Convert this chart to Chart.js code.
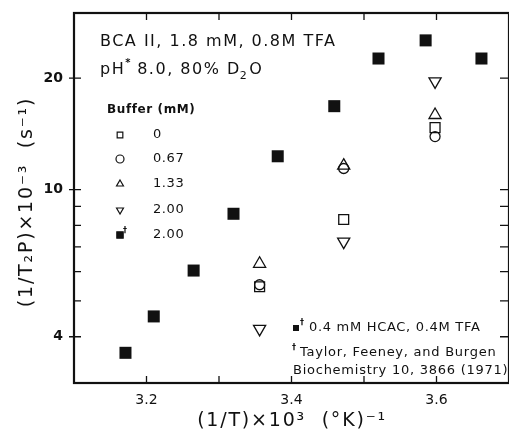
<!DOCTYPE html>
<html>
<head>
<meta charset="utf-8">
<script src="https://cdn.jsdelivr.net/npm/chart.js@4/dist/chart.umd.min.js"></script>
<style>
  html, body { margin: 0; padding: 0; background: #fff; }
  #wrap { width: 509px; height: 432px; }
</style>
</head>
<body>
<div id="wrap"><canvas id="c" width="509" height="432"></canvas></div>
<script>
// Taylor, Feeney and Burgen (1971), filled squares
const xTaylor = [3.171, 3.210, 3.265, 3.320, 3.381, 3.459, 3.520, 3.585, 3.662];
const yTaylor = [3.62, 4.54, 6.04, 8.60, 12.3, 16.8, 22.6, 25.3, 22.6];

// this work, three temperatures
const xBuffer = [3.356, 3.472, 3.598];
const yBuf0 = [5.46, 8.30, 14.7];
const yBuf067 = [5.53, 11.4, 13.9];
const yBuf133 = [6.30, 11.6, 15.9];
const yBuf200 = [4.20, 7.23, 19.6];

const legendLabels = ["0", "0.67", "1.33", "2.00", "2.00"];
const xMajor = [3.2, 3.3, 3.4, 3.5, 3.6];
const xLabelled = [3.2, 3.4, 3.6];
const yTicks = [3, 4, 5, 6, 7, 8, 9, 10, 20, 30];
const yLabelled = [4, 10, 20];

const FONT = "'DejaVu Sans', sans-serif";
const INK = "#111";

function pts(xs, ys) {
  return xs.map((x, i) => ({ x: x, y: ys[i] }));
}

function open(label, data, style, radius, rotation) {
  return {
    label, data,
    pointStyle: style,
    radius: radius,
    rotation: rotation || 0,
    borderColor: INK,
    borderWidth: 1.3,
    backgroundColor: "rgba(0,0,0,0)",
  };
}

const frame = {
  id: "frame",
  afterDraw(chart) {
    const { ctx, chartArea: a, scales: { x, y } } = chart;
    ctx.save();
    ctx.strokeStyle = INK;
    ctx.lineWidth = 2.2;
    ctx.strokeRect(a.left, a.top, a.right - a.left, a.bottom - a.top);

    ctx.lineWidth = 1.3;
    ctx.beginPath();
    xMajor.forEach(v => {
      const px = x.getPixelForValue(v);
      ctx.moveTo(px, a.bottom); ctx.lineTo(px, a.bottom - 7);
      ctx.moveTo(px, a.top); ctx.lineTo(px, a.top + 7);
    });
    yTicks.forEach(v => {
      if (v === 3 || v === 30) return;
      const py = y.getPixelForValue(v);
      const major = yLabelled.includes(v);
      ctx.moveTo(a.left - (major ? 5 : 0), py); ctx.lineTo(a.left + 7, py);
      ctx.moveTo(a.right, py); ctx.lineTo(a.right - 9, py);
    });
    ctx.stroke();

    // texts
    ctx.fillStyle = INK;
    ctx.textBaseline = "middle";
    ctx.textAlign = "left";
    ctx.letterSpacing = "1.5px";
    ctx.font = "16px " + FONT;
    ctx.fillText("BCA II, 1.8 mM, 0.8M TFA", 100, 42);
    ctx.fillText("pH", 100, 70);
    let w = ctx.measureText("pH").width;
    ctx.font = "bold 10px " + FONT;
    ctx.fillText("*", 100 + w, 63);
    ctx.font = "16px " + FONT;
    ctx.fillText("8.0, 80% D", 100 + w + 12, 70);
    w += 12 + ctx.measureText("8.0, 80% D").width;
    ctx.font = "11px " + FONT;
    ctx.fillText("2", 100 + w - 1, 76);
    w += ctx.measureText("2").width;
    ctx.font = "16px " + FONT;
    ctx.fillText("O", 100 + w, 70);

    // legend
    ctx.font = "bold 12px " + FONT;
    ctx.letterSpacing = "0.6px";
    ctx.fillText("Buffer (mM)", 107, 110);
    ctx.font = "13px " + FONT;
    const ds = chart.data.datasets;
    const order = [1, 2, 3, 4, 0];
    const ly = [135, 159, 184, 210, 235];
    order.forEach((di, i) => {
      const d = ds[di];
      ctx.strokeStyle = INK;
      ctx.fillStyle = di === 0 ? INK : "rgba(0,0,0,0)";
      ctx.lineWidth = 1.2;
      Chart.helpers.drawPoint(ctx, { pointStyle: d.pointStyle, radius: di === 0 ? 4.5 : 4, rotation: d.rotation || 0, borderWidth: 1.2 }, 120, ly[i]);
      ctx.fillStyle = INK;
      ctx.fillText(legendLabels[i], 153, ly[i]);
    });
    ctx.font = "bold 8px " + FONT;
    ctx.fillText("\u2020", 123, 231);

    // footnotes
    ctx.fillStyle = INK;
    ctx.fillRect(293, 325, 6, 6);
    ctx.font = "bold 8px " + FONT;
    ctx.fillText("\u2020", 300, 323);
    ctx.font = "13px " + FONT;
    ctx.letterSpacing = "0.7px";
    ctx.fillText("0.4 mM HCAC, 0.4M TFA", 309, 328);
    ctx.font = "bold 8px " + FONT;
    ctx.fillText("\u2020", 292, 348);
    ctx.font = "13px " + FONT;
    ctx.letterSpacing = "0.75px";
    ctx.fillText("Taylor, Feeney, and Burgen", 300, 353);
    ctx.fillText("Biochemistry 10, 3866 (1971)", 293, 371);

    // axis titles
    ctx.letterSpacing = "1.8px";
    ctx.font = "19px " + FONT;
    ctx.textAlign = "center";
    ctx.fillText("(1/T)\u00d710\u00b3  (\u00b0K)\u207b\u00b9", 292, 421);
    ctx.save();
    ctx.translate(27, 202);
    ctx.rotate(-Math.PI / 2);
    ctx.fillText("(1/T\u2082P)\u00d710\u207b\u00b3  (s\u207b\u00b9)", 0, 0);
    ctx.restore();
    ctx.restore();
  }
};

new Chart(document.getElementById("c"), {
  type: "scatter",
  data: {
    datasets: [
      {
        label: "2.00 (Taylor et al.)",
        data: pts(xTaylor, yTaylor),
        pointStyle: "rect",
        radius: 8.5,
        backgroundColor: INK,
        borderColor: INK,
        borderWidth: 0,
      },
      open("0", pts(xBuffer, yBuf0), "rect", 7),
      open("0.67", pts(xBuffer, yBuf067), "circle", 5),
      open("1.33", pts(xBuffer, yBuf133), "triangle", 7),
      open("2.00", pts(xBuffer, yBuf200), "triangle", 7, 180),
    ],
  },
  options: {
    responsive: false,
    animation: false,
    events: [],
    layout: { autoPadding: false, padding: { left: 0, top: 13, right: 0, bottom: 0 } },
    plugins: { legend: { display: false }, tooltip: { enabled: false } },
    scales: {
      x: {
        type: "linear",
        min: 3.1, max: 3.7,
        afterFit: s => { s.height = 49; s.paddingLeft = 0; s.paddingRight = 0; },
        afterBuildTicks: s => { s.ticks = xLabelled.map(v => ({ value: v })); },
        grid: { display: false, drawTicks: false },
        border: { display: false },
        ticks: {
          padding: 9,
          color: INK,
          font: { family: FONT, size: 14 },
          callback: v => v.toFixed(1),
        },
      },
      y: {
        type: "logarithmic",
        min: 3, max: 30,
        afterFit: s => { s.width = 74; s.paddingTop = 0; s.paddingBottom = 0; },
        afterBuildTicks: s => { s.ticks = yLabelled.map(v => ({ value: v })); },
        grid: { display: false, drawTicks: false },
        border: { display: false },
        ticks: {
          padding: 11,
          color: INK,
          font: { family: FONT, size: 14, weight: "bold" },
          callback: v => String(v),
        },
      },
    },
  },
  plugins: [frame],
});
</script>
</body>
</html>
